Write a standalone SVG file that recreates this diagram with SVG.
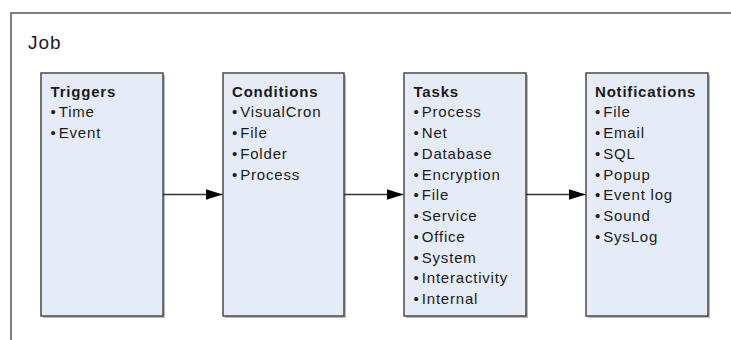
<svg xmlns="http://www.w3.org/2000/svg" width="731" height="340" viewBox="0 0 731 340">
<defs>
<style>
.frame{fill:none;stroke:#555;stroke-width:1.5}
.box{fill:#E6ECF7;stroke:#4a4a4a;stroke-width:1.5}
.shadow{fill:#bbb}
text{font-family:"Liberation Sans",Arial,sans-serif;fill:#1a1a1a;font-size:15px;letter-spacing:0.8px}
.hd{font-weight:bold}
.job{font-size:19px;letter-spacing:1px}
.b{letter-spacing:0}
.conn{stroke:#333;stroke-width:1.5;fill:none;marker-end:url(#arr)}
</style>
<marker id="arr" markerWidth="17" markerHeight="11" refX="17" refY="5.5" orient="auto" markerUnits="userSpaceOnUse">
<path d="M0,0 L17,5.5 L0,11 Z" fill="#000"/>
</marker>
</defs>
<rect width="731" height="340" fill="#fff"/>
<path class="frame" d="M11,345 V13 H735"/>
<text class="job" x="28" y="48.5">Job</text>

<g id="triggers">
<rect class="shadow" x="43" y="75" width="122" height="243"/>
<rect class="box" x="41" y="73" width="122" height="243"/>
<text class="hd" x="50.5" y="96.5">Triggers</text>
<text x="50.5" y="117.2"><tspan class="b">•</tspan><tspan dx="3">Time</tspan></text>
<text x="50.5" y="138"><tspan class="b">•</tspan><tspan dx="3">Event</tspan></text>
</g>

<g id="conditions">
<rect class="shadow" x="225" y="75" width="121" height="243"/>
<rect class="box" x="223" y="73" width="121" height="243"/>
<text class="hd" x="232" y="96.5">Conditions</text>
<text x="232" y="117.2"><tspan class="b">•</tspan><tspan dx="3">VisualCron</tspan></text>
<text x="232" y="138"><tspan class="b">•</tspan><tspan dx="3">File</tspan></text>
<text x="232" y="158.7"><tspan class="b">•</tspan><tspan dx="3">Folder</tspan></text>
<text x="232" y="179.5"><tspan class="b">•</tspan><tspan dx="3">Process</tspan></text>
</g>

<g id="tasks">
<rect class="shadow" x="406" y="75" width="122" height="243"/>
<rect class="box" x="404" y="73" width="122" height="243"/>
<text class="hd" x="413.5" y="96.5">Tasks</text>
<text x="413.5" y="117.2"><tspan class="b">•</tspan><tspan dx="3">Process</tspan></text>
<text x="413.5" y="138"><tspan class="b">•</tspan><tspan dx="3">Net</tspan></text>
<text x="413.5" y="158.7"><tspan class="b">•</tspan><tspan dx="3">Database</tspan></text>
<text x="413.5" y="179.5"><tspan class="b">•</tspan><tspan dx="3">Encryption</tspan></text>
<text x="413.5" y="200.2"><tspan class="b">•</tspan><tspan dx="3">File</tspan></text>
<text x="413.5" y="221"><tspan class="b">•</tspan><tspan dx="3">Service</tspan></text>
<text x="413.5" y="241.7"><tspan class="b">•</tspan><tspan dx="3">Office</tspan></text>
<text x="413.5" y="262.5"><tspan class="b">•</tspan><tspan dx="3">System</tspan></text>
<text x="413.5" y="283.2"><tspan class="b">•</tspan><tspan dx="3">Interactivity</tspan></text>
<text x="413.5" y="304"><tspan class="b">•</tspan><tspan dx="3">Internal</tspan></text>
</g>

<g id="notifications">
<rect class="shadow" x="588" y="75" width="122" height="243"/>
<rect class="box" x="586" y="73" width="122" height="243"/>
<text class="hd" x="595" y="96.5">Notifications</text>
<text x="595" y="117.2"><tspan class="b">•</tspan><tspan dx="3">File</tspan></text>
<text x="595" y="138"><tspan class="b">•</tspan><tspan dx="3">Email</tspan></text>
<text x="595" y="158.7"><tspan class="b">•</tspan><tspan dx="3">SQL</tspan></text>
<text x="595" y="179.5"><tspan class="b">•</tspan><tspan dx="3">Popup</tspan></text>
<text x="595" y="200.2"><tspan class="b">•</tspan><tspan dx="3">Event log</tspan></text>
<text x="595" y="221"><tspan class="b">•</tspan><tspan dx="3">Sound</tspan></text>
<text x="595" y="241.7"><tspan class="b">•</tspan><tspan dx="3">SysLog</tspan></text>
</g>

<g id="connectors">
<line class="conn" x1="163" y1="194.5" x2="222.5" y2="194.5"/>
<line class="conn" x1="344" y1="194.5" x2="403.5" y2="194.5"/>
<line class="conn" x1="526" y1="194.5" x2="585.5" y2="194.5"/>
</g>
</svg>
